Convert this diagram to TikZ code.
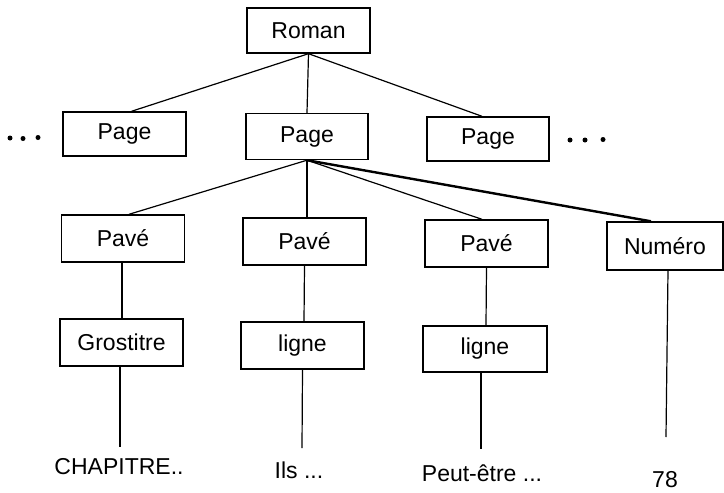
\documentclass[tikz,border=0pt]{standalone}
\usepackage{fontspec}
\setmainfont{Liberation Sans}
\begin{document}
\begin{tikzpicture}[x=1pt,y=-1pt,
  box/.style={draw,line width=1.4pt,minimum width=123pt,minimum height=45pt,inner sep=0pt,font=\fontsize{23}{26}\selectfont},
  lbl/.style={inner sep=0pt,font=\fontsize{23}{26}\selectfont},
  dot/.style={circle,fill,inner sep=0pt,minimum size=5pt},
  thin/.style={line width=1.2pt},
  thick2/.style={line width=2.4pt}]
\useasboundingbox (0,0) rectangle (724,493);
\node[box] (roman) at (308.5,30.5) {Roman};
\node[box,minimum height=44pt] (pl) at (124.5,134) {Page};
\node[box,minimum width=122pt,minimum height=46pt] (pc) at (307,136.5) {Page};
\node[box,minimum width=122pt,minimum height=44pt] (pr) at (488,139) {Page};
\node[dot] (dl1) at (10,138) {};
\node[dot] (dl2) at (23,138.5) {};
\node[dot] (dl3) at (38,137.5) {};
\node[dot] (dr1) at (570,140) {};
\node[dot] (dr2) at (585,140) {};
\node[dot] (dr3) at (603,139.5) {};
\node[box,minimum height=47pt] (pv1) at (123,238.5) {Pavé};
\node[box,minimum height=47pt] (pv2) at (304.5,241.5) {Pavé};
\node[box,minimum height=47pt] (pv3) at (486.5,243.5) {Pavé};
\node[box,minimum width=116pt,minimum height=48pt] (num) at (665,246) {Numéro};
\node[box,minimum height=47pt] (gro) at (121.5,342.5) {Grostitre};
\node[box,minimum height=47pt] (lg1) at (302.5,345.5) {ligne};
\node[box,minimum width=124pt,minimum height=46pt] (lg2) at (485,349) {ligne};
\node[lbl] (t1) at (119,467) {CHAPITRE..};
\node[lbl] (t2) at (299,470) {Ils ...};
\node[lbl] (t3) at (482,473) {Peut-être ...};
\node[lbl] (t4) at (665,480) {78};
\coordinate (e1) at (120,447);
\coordinate (e2) at (302,448);
\coordinate (e3) at (481,449);
\coordinate (e4) at (666,437);
% Roman to pages
\draw[thin] (roman.south) -- ([xshift=7pt]pl.north);
\draw[thin] (roman.south) -- (pc.north);
\draw[thin] (roman.south) -- ([xshift=-6pt]pr.north);
% Page to children
\draw[thin] (pc.south) -- ([xshift=6pt]pv1.north);
\draw[thin] (pc.south) -- ([xshift=2.5pt]pv2.north);
\draw[thin] (pc.south) -- ([xshift=-4.5pt]pv3.north);
\draw[thick2] (pc.south) -- ([xshift=-14pt]num.north);
% verticals
\draw[thin] ([xshift=-1pt]pv1.south) -- ([xshift=0.5pt]gro.north);
\draw[thin] (pv2.south) -- ([xshift=1.5pt]lg1.north);
\draw[thin] (pv3.south) -- ([xshift=1pt]lg2.north);
\draw[thick2] ([xshift=-1.5pt]gro.south) -- (e1);
\draw[thin] (lg1.south) -- (e2);
\draw[thick2] ([xshift=-4pt]lg2.south) -- (e3);
\draw[thin] ([xshift=3pt]num.south) -- (e4);
\end{tikzpicture}
\end{document}
